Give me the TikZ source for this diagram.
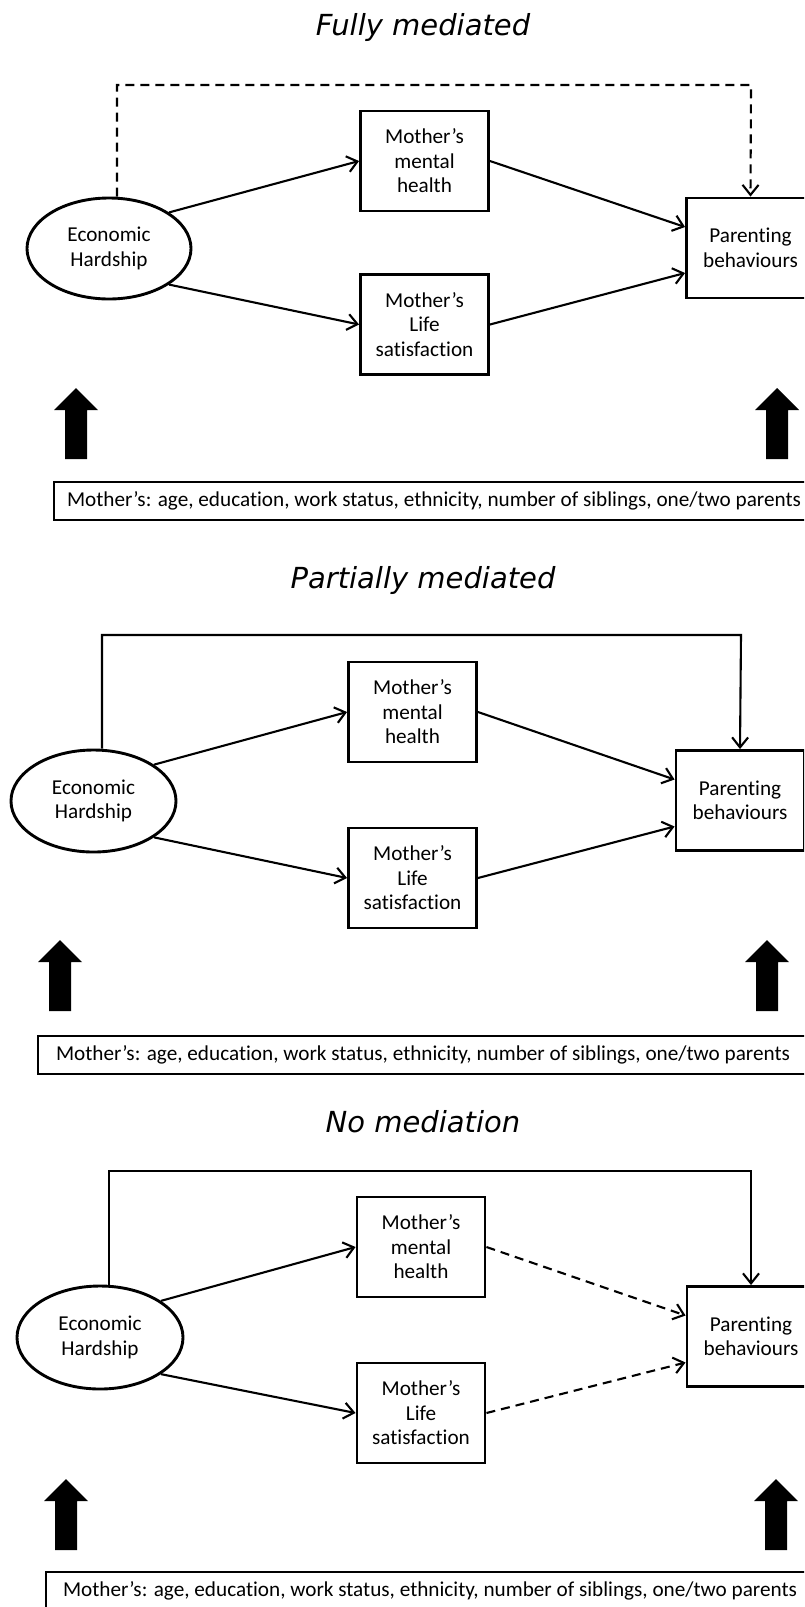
\documentclass[tikz,border=0pt]{standalone}
\usepackage{fontspec}
\setmainfont[Ligatures={NoCommon}]{Carlito}
\newfontfamily\titlefont{DejaVu Sans}
\usetikzlibrary{shapes.geometric,arrows.meta,calc}
\newcommand\blkarrow[1]{\fill[black] #1 -- ++(22,22) -- ++(-11,0) -- ++(0,49) -- ++(-22,0) -- ++(0,-49) -- ++(-11,0) -- cycle;}
\begin{document}
\begin{tikzpicture}[x=1pt,y=-1pt,
  txt/.style={font=\fontsize{21.2}{24.5}\selectfont},
  box/.style={txt, draw, line width=2.9pt, minimum width=128pt, minimum height=100pt, inner sep=0pt, align=center},
  oval/.style={txt, draw, ellipse, line width=2.9pt, inner sep=0pt, align=center},
  cov/.style={txt, draw, line width=2.9pt, minimum height=38pt, inner sep=0pt},
  ttl/.style={font=\titlefont\itshape\fontsize{29}{34}\selectfont, anchor=base},
  link/.style={line width=2.1pt, -{Straight Barb[length=10pt,width=16pt]}},
  dlink/.style={link, dash pattern=on 9pt off 6pt},
]
\useasboundingbox (0,0) rectangle (804,1607);
\clip (0,0) rectangle (804,1607);

% ---------- Panel 1 ----------
\node[ttl] (t1) at (423,35) {Fully mediated};
\node[oval, minimum width=164pt, minimum height=101pt] (e1) at (109,248.5) {Economic\\Hardship};
\node[box] (m1) at (424.5,161) {Mother’s\\mental\\health};
\node[box] (l1) at (424.5,324.5) {Mother’s\\Life\\satisfaction};
\node[box] (p1) at (750.5,248) {Parenting\\behaviours};
\coordinate (k1) at (751,85);
\draw[dlink] ([xshift=8pt]e1.north) |- (k1) -- (p1.north);
\draw[link] (e1.31) -- (m1.west);
\draw[link] (e1.-31) -- (l1.west);
\draw[link] (m1.east) -- ([yshift=21pt]p1.west);
\draw[link] (l1.east) -- ([yshift=-25pt]p1.west);
\blkarrow{(76,388)}
\blkarrow{(777,388)}
\node[cov, minimum width=760pt] (c1) at (434,501) {Mother’s: age, education, work status, ethnicity, number of siblings, one/two parents};

% ---------- Panel 2 ----------
\node[ttl] (t2) at (423,588) {Partially mediated};
\node[oval, minimum width=165pt, minimum height=102pt] (e2) at (93.5,801) {Economic\\Hardship};
\node[box] (m2) at (412.5,712) {Mother’s\\mental\\health};
\node[box] (l2) at (412.5,878) {Mother’s\\Life\\satisfaction};
\node[box] (p2) at (740,800.5) {Parenting\\behaviours};
\coordinate (k2) at (741,635);
\draw[link] ([xshift=8.5pt]e2.north) |- (k2) -- (p2.north);
\draw[link] (e2.31) -- (m2.west);
\draw[link] (e2.-31) -- (l2.west);
\draw[link] (m2.east) -- ([yshift=21pt]p2.west);
\draw[link] (l2.east) -- ([yshift=-26pt]p2.west);
\blkarrow{(60,940)}
\blkarrow{(767,940)}
\node[cov, minimum width=770pt] (c2) at (423,1055) {Mother’s: age, education, work status, ethnicity, number of siblings, one/two parents};

% ---------- Panel 3 ----------
\node[ttl] (t3) at (423,1132) {No mediation};
\node[oval, minimum width=166pt, minimum height=103pt] (e3) at (100,1337.5) {Economic\\Hardship};
\node[box] (m3) at (421,1247) {Mother’s\\mental\\health};
\node[box] (l3) at (421,1413) {Mother’s\\Life\\satisfaction};
\node[box] (p3) at (751,1336.5) {Parenting\\behaviours};
\coordinate (k3) at (751,1171);
\draw[link] ([xshift=9pt]e3.north) |- (k3) -- (p3.north);
\draw[link] (e3.31) -- (m3.west);
\draw[link] (e3.-31) -- (l3.west);
\draw[dlink] (m3.east) -- ([yshift=21pt]p3.west);
\draw[dlink] (l3.east) -- ([yshift=-26pt]p3.west);
\blkarrow{(66,1479)}
\blkarrow{(776,1479)}
\node[cov, minimum width=768pt] (c3) at (430,1591) {Mother’s: age, education, work status, ethnicity, number of siblings, one/two parents};
\end{tikzpicture}
\end{document}
